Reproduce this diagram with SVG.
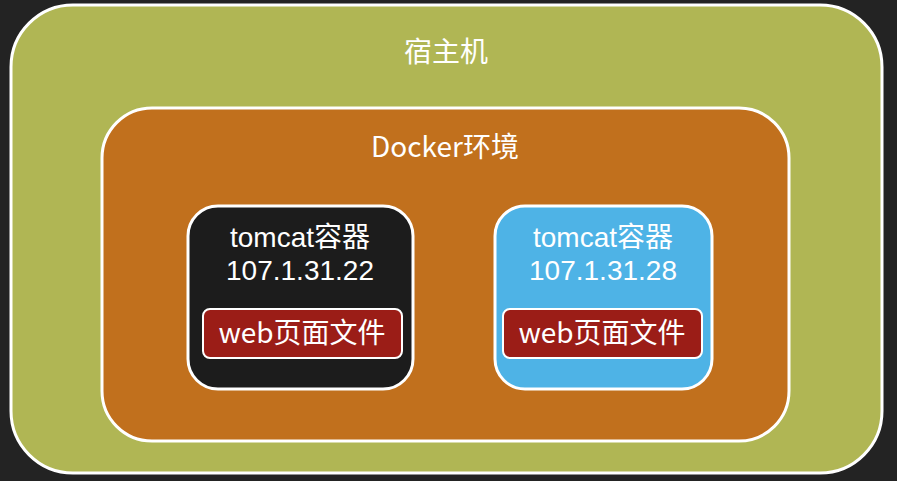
<svg xmlns="http://www.w3.org/2000/svg" width="897" height="481" viewBox="0 0 897 481">
<style>
.t{font-family:"Noto Sans CJK SC","Noto Sans",sans-serif;font-size:28px;fill:#ffffff;text-anchor:middle}
.n{font-family:"Liberation Sans","Noto Sans CJK SC",sans-serif;font-size:28px;fill:#ffffff;text-anchor:middle}
.box{stroke:#ffffff;stroke-width:3}
.btn{fill:#9b1d17;stroke:#ffffff;stroke-width:2}
</style>
<rect x="0" y="0" width="897" height="481" fill="#232323"/>
<g id="host">
<rect class="box" x="11" y="5" width="871" height="468" rx="62" fill="#b0b654"/>
<text class="t" x="446" y="62">宿主机</text>
</g>
<g id="docker">
<rect class="box" x="102" y="108" width="687" height="333" rx="50" fill="#c1701d"/>
<text class="t" x="445" y="157">Docker环境</text>
</g>
<g id="tomcat1">
<rect class="box" x="188" y="206" width="225" height="183" rx="30" fill="#1c1c1c"/>
<text class="n" x="300" y="247">tomcat容器</text>
<text class="n" x="300" y="280">107.1.31.22</text>
<rect class="btn" x="203" y="309" width="199" height="49" rx="7"/>
<text class="t" x="302" y="343">web页面文件</text>
</g>
<g id="tomcat2">
<rect class="box" x="495" y="206" width="217" height="183" rx="30" fill="#4eb3e6"/>
<text class="n" x="603" y="247">tomcat容器</text>
<text class="n" x="603" y="280">107.1.31.28</text>
<rect class="btn" x="503" y="309" width="199" height="49" rx="7"/>
<text class="t" x="602" y="343">web页面文件</text>
</g>
<g id="connectors"></g>
</svg>
